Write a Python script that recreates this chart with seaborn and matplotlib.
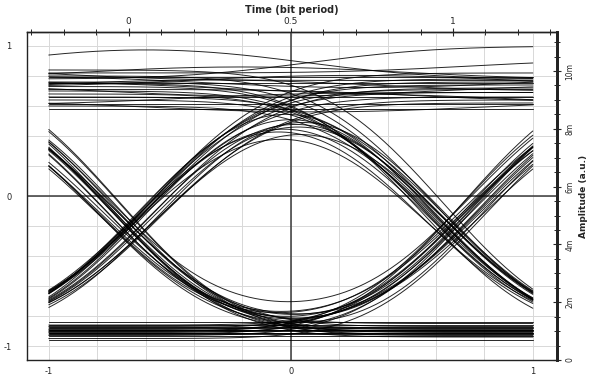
import math
import numpy as np
import pandas as pd
import matplotlib
matplotlib.use("Agg")
import matplotlib.pyplot as plt
import seaborn as sns

# Receiver model for the eye: NRZ bits through a Gaussian edge filter,
# followed by a mild compressive shaping of the normalized swing.
BIT_PERIOD = 1.34
EDGE_SIGMA = 0.42
SHAPE_EXP = 1.28

# Symbol -> normalized drive level (d/u/U are weak / strong "one" bits)
SYMBOL_LEVEL = {"0": 0.0, "1": 1.0, "d": 0.96, "u": 1.04, "U": 1.10}

# One row per captured trace: bits around the sampling instant,
# its high and low rail, and its timing offset.
patterns = [
    # steady ones
    "111", "1d1", "111", "d11", "11d", "1u1", "111", "u11", "1d1", "11u",
    "d1d", "1u1", "1U1", "11U", "111", "1d1", "u1d", "111",
    # steady zeros
    "000", "000", "000", "000", "000", "000", "000", "000", "000", "000",
    "000", "000",
    # isolated one
    "010", "010", "010", "010", "010", "010", "010", "010", "010",
    # isolated zero
    "101", "101", "101", "101", "101", "101", "101", "101", "101",
    # rising into the bit
    "011", "011", "011", "011", "011", "011", "011", "011", "011", "011",
    # falling out of the bit
    "110", "110", "110", "110", "110", "110", "110", "110", "110", "110",
    # rising out of the bit
    "001", "001", "001", "001", "001", "001", "001", "001", "001", "001",
    # falling into the bit
    "100", "100", "100", "100", "100", "100", "100", "100", "100", "100",
]
high_levels = [
    0.58, 0.63, 0.66, 0.69, 0.71, 0.73, 0.75, 0.77, 0.80, 0.82,
    0.87, 0.70, 0.78, 0.78, 0.61, 0.74, 0.68, 0.79,
    0.72, 0.72, 0.72, 0.72, 0.72, 0.72, 0.72, 0.72, 0.72, 0.72,
    0.72, 0.72,
    0.70, 0.66, 0.74, 0.62, 0.78, 0.68, 0.58, 0.72, 0.64,
    0.74, 0.70, 0.78, 0.66, 0.72, 0.80, 0.80, 0.76, 0.68,
    0.72, 0.66, 0.78, 0.62, 0.74, 0.82, 0.69, 0.76, 0.64, 0.71,
    0.70, 0.64, 0.80, 0.73, 0.60, 0.76, 0.84, 0.68, 0.75, 0.66,
    0.74, 0.68, 0.80, 0.63, 0.77, 0.71, 0.85, 0.66, 0.72, 0.79,
    0.75, 0.69, 0.81, 0.64, 0.72, 0.78, 0.86, 0.67, 0.70, 0.83,
]
low_levels = [
    -0.90, -0.90, -0.89, -0.91, -0.90, -0.88, -0.92, -0.90, -0.90, -0.91,
    -0.90, -0.90, -0.90, -0.90, -0.89, -0.91, -0.90, -0.90,
    -0.84, -0.86, -0.87, -0.88, -0.89, -0.90, -0.91, -0.92, -0.93, -0.96,
    -0.895, -0.915,
    -0.90, -0.88, -0.92, -0.89, -0.91, -0.90, -0.87, -0.93, -0.89,
    -0.90, -0.88, -0.92, -0.86, -0.91, -0.89, -0.80, -0.94, -0.87,
    -0.90, -0.87, -0.92, -0.89, -0.94, -0.88, -0.91, -0.85, -0.90, -0.93,
    -0.89, -0.92, -0.87, -0.90, -0.93, -0.86, -0.91, -0.88, -0.94, -0.90,
    -0.91, -0.88, -0.93, -0.86, -0.90, -0.89, -0.92, -0.87, -0.95, -0.90,
    -0.90, -0.87, -0.92, -0.88, -0.94, -0.89, -0.91, -0.85, -0.90, -0.93,
]
skews = [
    0.00, 0.10, -0.05, 0.20, -0.15, 0.25, 0.00, -0.30, 0.30, 0.05,
    -0.20, -0.35, -0.60, -0.60, 0.15, -0.10, 0.35, -0.25,
    0.00, 0.00, 0.00, 0.00, 0.00, 0.00, 0.00, 0.00, 0.00, 0.00,
    0.00, 0.00,
    0.02, -0.03, 0.00, 0.04, -0.02, 0.03, -0.04, 0.05, -0.05,
    -0.02, 0.03, 0.00, -0.04, 0.02, 0.01, -0.01, 0.05, -0.05,
    0.03, -0.02, 0.00, 0.04, -0.03, 0.01, -0.04, 0.02, 0.05, -0.05,
    -0.03, 0.02, 0.00, -0.04, 0.03, -0.01, 0.04, -0.02, -0.05, 0.05,
    0.02, -0.03, 0.01, 0.04, -0.02, 0.00, -0.04, 0.03, 0.05, -0.05,
    -0.02, 0.03, 0.00, -0.04, 0.02, -0.01, 0.04, -0.03, -0.05, 0.05,
]

# Secondary scales
TOP_TICKS = [0, 0.5, 1]
RIGHT_TICKS = [0, 2, 4, 6, 8, 10]
RIGHT_LABELS = ["0", "2m", "4m", "6m", "8m", "10m"]
LEFT_TICKS = [-1, 0, 1]
BOTTOM_TICKS = [-1, 0, 1]

_erf = np.vectorize(math.erf)


def phi(z):
    return 0.5 * (1.0 + _erf(z / math.sqrt(2.0)))


def trace_wave(t, pattern, high, low, skew):
    a = [SYMBOL_LEVEL[c] for c in pattern]
    half = BIT_PERIOD / 2
    c_prev, c_mid, c_next = skew - BIT_PERIOD, skew, skew + BIT_PERIOD
    s = (a[0] * phi((c_prev + half - t) / EDGE_SIGMA)
         + a[1] * (phi((t - c_mid + half) / EDGE_SIGMA) - phi((t - c_mid - half) / EDGE_SIGMA))
         + a[2] * phi((t - c_next + half) / EDGE_SIGMA))
    s = np.clip(s, 0, None)
    return low + (high - low) * s ** SHAPE_EXP


t = np.linspace(-1, 1, 301)
frames = []
for i, (p, hi, lo, sk) in enumerate(zip(patterns, high_levels, low_levels, skews)):
    frames.append(pd.DataFrame({"t": t, "v": trace_wave(t, p, hi, lo, sk), "trace": i}))
eye = pd.concat(frames, ignore_index=True)

sns.set_theme(style="white")
plt.rcParams["font.family"] = ["DejaVu Sans"]
plt.rcParams["axes.unicode_minus"] = False

fig = plt.figure(figsize=(6, 3.81), dpi=100)
ax = fig.add_axes([27 / 600, 21 / 381, 530 / 600, 328 / 381])
ax.set_xlim(-1.09, 1.1)
ax.set_ylim(-1.093, 1.093)

ax.set_xticks(BOTTOM_TICKS)
ax.set_xticks(np.round(np.arange(-1, 1.01, 0.2), 2), minor=True)
ax.set_yticks(LEFT_TICKS)
ax.set_yticks(np.round(np.arange(-1, 1.01, 0.2), 2), minor=True)
ax.grid(which="both", color="#d8d8d8", lw=0.7)
ax.set_axisbelow(True)
ax.axhline(0, color="#3a3a3a", lw=1.1, zorder=1.5)
ax.axvline(0, color="#3a3a3a", lw=1.1, zorder=1.5)

sns.lineplot(data=eye, x="t", y="v", units="trace", estimator=None, sort=False,
             color="black", lw=0.7, alpha=0.85, legend=False, ax=ax)
ax.set_xlabel("")
ax.set_ylabel("")

for side in ["left", "top", "bottom"]:
    ax.spines[side].set_color("#222222")
    ax.spines[side].set_linewidth(1.0)
ax.spines["right"].set_color("#222222")
ax.spines["right"].set_linewidth(2.0)

ax.tick_params(which="major", direction="inout", length=6, width=0.8,
               labelsize=6, colors="#222222", pad=2)
ax.tick_params(which="minor", direction="inout", length=4, width=0.7, colors="#222222")
ax.tick_params(axis="y", pad=8)

top = ax.secondary_xaxis("top", functions=(lambda x: 0.5 + x / BIT_PERIOD,
                                           lambda b: (b - 0.5) * BIT_PERIOD))
top.set_xticks(TOP_TICKS)
top.set_xticks(np.round(np.arange(-0.3, 1.31, 0.1), 2), minor=True)
top.set_xticklabels(["0", "0.5", "1"])
top.tick_params(which="major", direction="inout", length=6, width=0.8, labelsize=6.5, pad=1)
top.tick_params(which="minor", direction="inout", length=4, width=0.7)
top.set_xlabel("Time (bit period)", fontsize=7, fontweight="bold", labelpad=3)
top.spines["top"].set_linewidth(1.0)

rscale = 10 / (0.833 + 1.093)
right = ax.secondary_yaxis("right", functions=(lambda v: (v + 1.093) * rscale,
                                               lambda r: r / rscale - 1.093))
right.set_yticks(RIGHT_TICKS)
right.set_yticklabels(RIGHT_LABELS, rotation=90, va="center")
right.set_yticks(np.arange(0, 11.01, 0.5), minor=True)
right.tick_params(which="major", direction="inout", length=6, width=0.8, labelsize=5.5, pad=3)
right.tick_params(which="minor", direction="inout", length=4, width=0.7)
right.spines["right"].set_linewidth(2.0)
right.set_ylabel("Amplitude (a.u.)", fontsize=6.5, fontweight="bold", rotation=90, labelpad=3)

fig.savefig("out.png", dpi=100)
